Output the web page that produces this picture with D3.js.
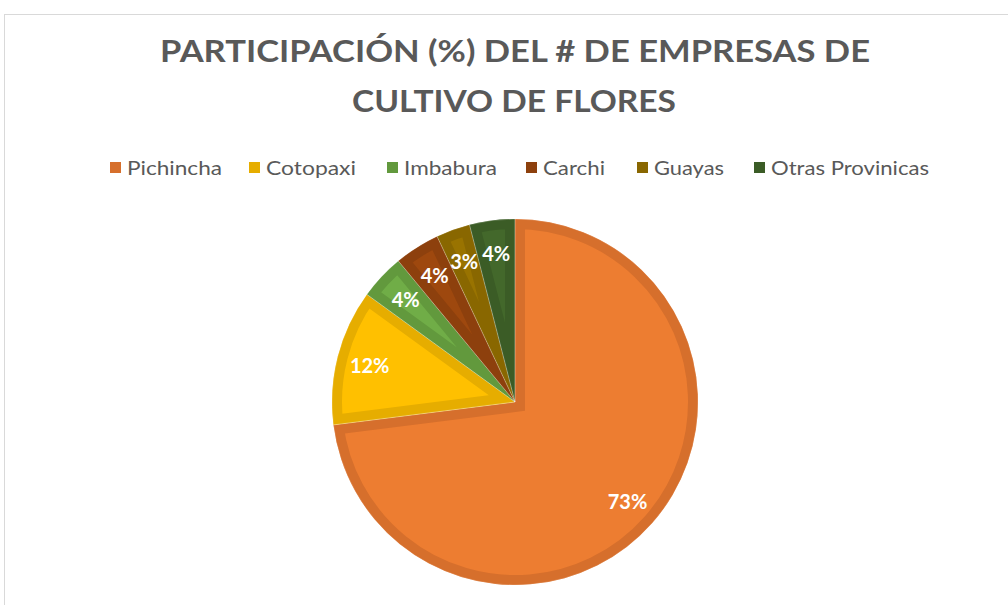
<!DOCTYPE html>
<html><head><meta charset="utf-8">
<script src="https://cdn.jsdelivr.net/npm/d3@7/dist/d3.min.js"></script>
<style>body{margin:0;background:#fff}svg{display:block}</style>
</head><body><svg id="c" width="1008" height="605"></svg>
<script>
const categories = ["Pichincha","Cotopaxi","Imbabura","Carchi","Guayas","Otras Provinicas"];
const values = [73,12,4,4,3,4];
const labels = ["73%","12%","4%","4%","3%","4%"];
const titleLines = ["PARTICIPACIÓN (%) DEL # DE EMPRESAS DE","CULTIVO DE FLORES"];
const fills = ["#ED7D31","#FFC000","#70AD47","#9E480E","#997300","#43682B"];
const borders = ["#D66F2C","#E6AD00","#62993D","#8D400D","#896700","#3B5C26"];

const svg = d3.select("#c");
const font = "Lato, 'Open Sans', sans-serif";

// frame
svg.append("rect").attr("x",4.5).attr("y",14.5).attr("width",1100).attr("height",700)
  .attr("fill","none").attr("stroke","#d9d9d9").attr("stroke-width",1);

// title
const tl = [{x:515,y:62,w:710},{x:514,y:112,w:324}];
titleLines.forEach((t,i)=>{
  svg.append("text").attr("x",tl[i].x).attr("y",tl[i].y).attr("text-anchor","middle")
    .attr("font-family",font).attr("font-weight","bold").attr("font-size",31)
    .attr("fill","#595959").attr("textLength",tl[i].w).attr("lengthAdjust","spacingAndGlyphs")
    .text(t);
});

// legend
const legX = [110,249,387,526,637,754];
const legW = [95,90,93,62,70,158];
const lg = svg.append("g");
categories.forEach((c,i)=>{
  lg.append("rect").attr("x",legX[i]).attr("y",162).attr("width",11).attr("height",11).attr("fill",borders[i]);
  lg.append("text").attr("x",legX[i]+17).attr("y",174.5).attr("font-family",font).attr("font-size",20)
    .attr("fill","#595959").attr("textLength",legW[i]).attr("lengthAdjust","spacingAndGlyphs").text(c);
});

// pie
const cx=515, cy=402, r=183;
const pie = d3.pie().sort(null).value(d=>d)(values);
const arc = d3.arc().innerRadius(0).outerRadius(r);
const g = svg.append("g").attr("transform",`translate(${cx},${cy})`);
const defs = svg.append("defs");
pie.forEach((p,i)=>{
  defs.append("clipPath").attr("id","cp"+i).append("path").attr("d",arc(p));
});
g.selectAll("path.s").data(pie).join("path").attr("class","s")
  .attr("d",arc).attr("fill",(d,i)=>fills[i])
  .attr("stroke",(d,i)=>borders[i]).attr("stroke-width",20)
  .attr("clip-path",(d,i)=>`url(#cp${i})`);
g.selectAll("path.e").data(pie).join("path").attr("class","e")
  .attr("d",arc).attr("fill","none").attr("stroke","rgba(255,255,255,0.25)").attr("stroke-width",0.8);

const larc = d3.arc().innerRadius(150).outerRadius(150);
g.selectAll("text.l").data(pie).join("text").attr("class","l")
  .attr("transform",d=>`translate(${larc.centroid(d)})`)
  .attr("text-anchor","middle").attr("dominant-baseline","central")
  .attr("font-family",font).attr("font-weight","bold").attr("font-size",20).attr("fill","#fff")
  .text((d,i)=>labels[i]);
</script></body></html>
